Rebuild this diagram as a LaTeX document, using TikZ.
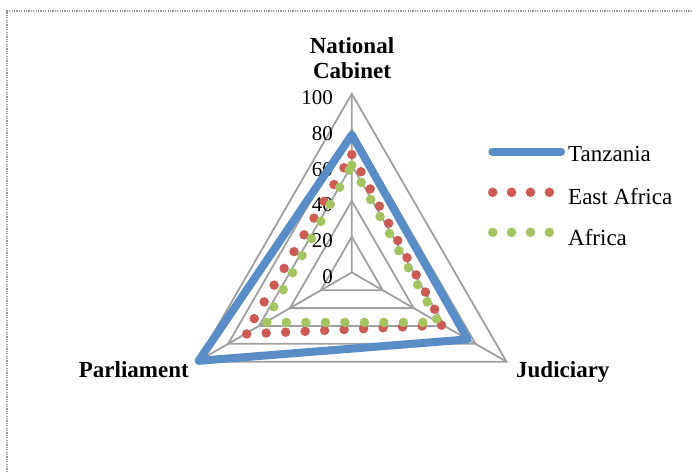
\documentclass[tikz,border=0pt]{standalone}
\usepackage{fontspec}
\setmainfont{Liberation Serif}
\definecolor{tzblue}{HTML}{5A8DC8}
\definecolor{eared}{HTML}{CD5B55}
\definecolor{afgreen}{HTML}{A4C462}
\definecolor{gridgray}{HTML}{A0A0A0}
\definecolor{framegray}{HTML}{999999}
\begin{document}
\begin{tikzpicture}[x=1pt,y=-1pt,
  gridline/.style={draw=gridgray,line width=1.8pt,line join=miter},
  tzline/.style={draw=tzblue,line width=8pt,line join=round,line cap=round},
  dotline/.style={line width=9.5pt,line cap=round,dash pattern=on 0pt off 19.5pt},
  frameline/.style={draw=framegray,line width=1.2pt,dash pattern=on 1.2pt off 1.2pt},
  axislabel/.style={font=\fontsize{23}{25}\selectfont\bfseries,inner sep=0pt},
  ticklabel/.style={font=\fontsize{21}{23}\selectfont,inner sep=0pt,anchor=base east},
  legtext/.style={font=\fontsize{23}{25}\selectfont,inner sep=0pt,anchor=base west}]
\useasboundingbox (0,0) rectangle (692,472);
\draw[frameline] (7,472) -- (7,11) -- (692,11);
\def\u{1.786}
\begin{scope}[shift={(351.8,272.4)}]
  \coordinate (O) at (0,0);
  \coordinate (top) at (-90:100*\u);
  \coordinate (left) at (150:100*\u);
  \coordinate (right) at (30:100*\u);
  \foreach \v in {20,40,60,80,100}
    \draw[gridline] (-90:\v*\u) -- (150:\v*\u) -- (30:\v*\u) -- cycle;
  \draw[gridline] (O) -- (top) (O) -- (left) (O) -- (right);
  % tick labels
  \foreach \v in {0,20,40,60,80,100}
    \node[ticklabel] (t\v) at (-18.8,-\v*\u+11) {\v};
  % Tanzania
  \draw[tzline] (-90:77*\u) -- (150:99*\u) -- (30:75*\u) -- cycle;
  % East Africa
  \draw[dotline,draw=eared] (-90:66*\u) -- (30:59*\u) -- (150:69*\u) -- cycle;
  % Africa
  \draw[dotline,draw=afgreen] (-90:60*\u) -- (30:56*\u) -- (150:56*\u) -- cycle;
\end{scope}
% axis labels
\node[axislabel,anchor=base] (nat) at (352,53.3) {National};
\node[axislabel,anchor=base] (cab) at (352,78.3) {Cabinet};
\node[axislabel,anchor=base east] (parl) at (189,377.3) {Parliament};
\node[axislabel,anchor=base west] (jud) at (516,377.7) {Judiciary};
% legend
\draw[tzline] (492.3,151.5) -- (561,151.5);
\draw[dotline,draw=eared,dash pattern=on 0pt off 18.87pt] (492.7,192.3) -- (551,192.3);
\draw[dotline,draw=afgreen,dash pattern=on 0pt off 18.87pt] (492.7,232.3) -- (551,232.3);
\node[legtext] (l1) at (568,161.5) {Tanzania};
\node[legtext] (l2) at (568,204.5) {East Africa};
\node[legtext] (l3) at (568,245.3) {Africa};
\end{tikzpicture}
\end{document}
